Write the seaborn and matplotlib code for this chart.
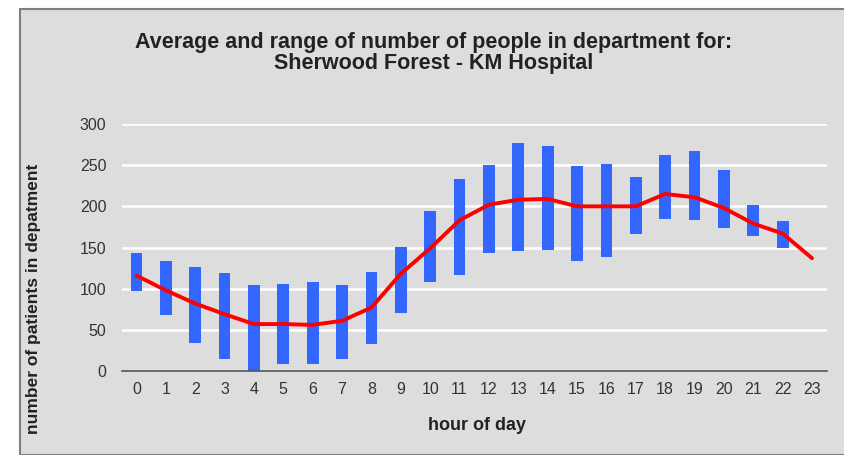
import matplotlib
matplotlib.use("Agg")
import matplotlib.pyplot as plt
from matplotlib.patches import Rectangle
from matplotlib.ticker import MultipleLocator, FixedLocator
import seaborn as sns
import pandas as pd
import numpy as np

hours = [str(h) for h in range(24)]
range_low = [97, 68, 34, 15, 0, 9, 9, 15, 33, 71, 108, 117, 143, 146, 147, 134, 138, 166, 185, 183, 174, 164, 149]
range_high = [143, 133, 126, 119, 104, 106, 108, 104, 120, 151, 194, 233, 250, 277, 273, 249, 252, 236, 262, 267, 244, 202, 182]
average = [116, 98, 82, 69, 57, 57, 56, 61, 77, 118, 149, 183, 202, 208, 209, 200, 200, 200, 215, 211, 198, 179, 167, 137]

title = "Average and range of number of people in department for:\nSherwood Forest - KM Hospital"
xlabel = "hour of day"
ylabel = "number of patients in depatment"

BG = "#dddddd"
sns.set_theme(style="white")
plt.rcParams["font.family"] = ["Liberation Sans", "DejaVu Sans"]

fig = plt.figure(figsize=(8.44, 4.55), dpi=100, facecolor="white")
fig.patches.append(Rectangle((20 / 844, 0), 1.0, 1 - 9 / 455, transform=fig.transFigure,
                             facecolor=BG, edgecolor="#7f7f7f", linewidth=1.5, zorder=-5))
ax = fig.add_axes([121.7 / 844, 1 - 371 / 455, 705 / 844, 247 / 455], zorder=2)
ax.set_facecolor(BG)

bars = pd.DataFrame({"hour": hours[:len(range_low)],
                     "span": np.array(range_high) - np.array(range_low)})
sns.barplot(data=bars, x="hour", y="span", order=hours, bottom=range_low,
            color="#3366ff", saturation=1, width=0.4, linewidth=0, ax=ax, zorder=3)
line = pd.DataFrame({"pos": np.arange(24), "avg": average})
sns.lineplot(data=line, x="pos", y="avg", color="#ff0000", linewidth=2.8, ax=ax, zorder=4)

ax.set_xlim(-0.5, 23.5)
ax.set_ylim(0, 300)
ax.yaxis.set_major_locator(MultipleLocator(50))
ax.set_axisbelow(True)
ax.grid(axis="y", color="white", linewidth=1.8)
ax.grid(axis="x", visible=False)
for s in ["top", "right", "left"]:
    ax.spines[s].set_visible(False)
ax.spines["bottom"].set_color("#555555")
ax.spines["bottom"].set_linewidth(1.2)
ax.spines["bottom"].set_zorder(5)
ax.set_xticks(range(24))
ax.set_xticklabels(hours)
ax.xaxis.set_minor_locator(FixedLocator(np.arange(-0.5, 24, 1)))
ax.tick_params(axis="x", which="major", length=0, pad=8, labelsize=11.5, labelcolor="#333333")
ax.tick_params(axis="x", which="minor", length=4, width=1, color="#555555", direction="out")
ax.tick_params(axis="y", length=0, pad=11, labelsize=11.5, labelcolor="#333333")
ax.set_xlabel("")
ax.set_ylabel("")

fig.text(434 / 844, 1 - 53 / 455, title, ha="center", va="center", fontsize=15.5,
         fontweight="bold", color="#222222", linespacing=0.95)
fig.text(477 / 844, 1 - 426 / 455, xlabel, ha="center", va="center", fontsize=13,
         fontweight="bold", color="#222222")
fig.text(34 / 844, 1 - 299 / 455, ylabel, ha="center", va="center", rotation=90,
         fontsize=12.5, fontweight="bold", color="#222222")

fig.savefig("out.png", dpi=100, facecolor="white")
